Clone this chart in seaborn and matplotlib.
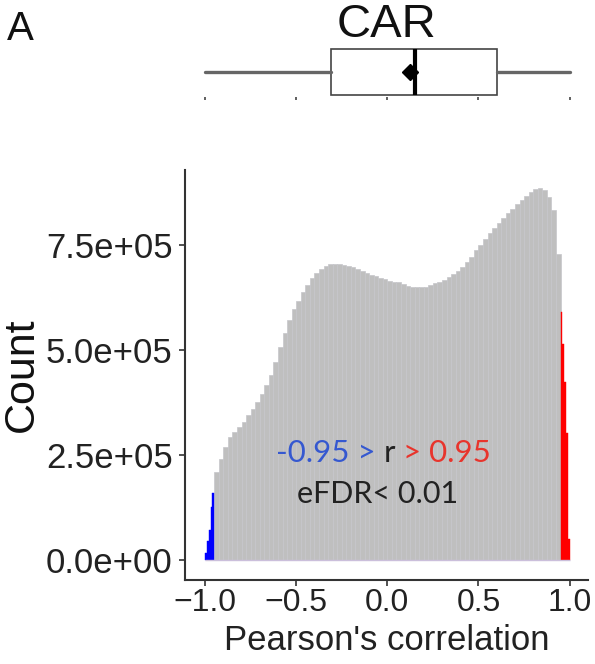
import numpy as np
import matplotlib
matplotlib.use("Agg")
import matplotlib.pyplot as plt
import seaborn as sns

# gray part of the histogram, bins of 0.025 from -0.95 to 0.95 (counts in 1e5)
gray_counts = [
    2.10, 2.40, 2.70, 2.92, 3.06, 3.18, 3.30, 3.45, 3.60, 3.77,
    3.95, 4.17, 4.42, 4.72, 5.08, 5.42, 5.72, 5.98, 6.18, 6.38,
    6.56, 6.72, 6.85, 6.95, 7.02, 7.05, 7.06, 7.05, 7.04, 7.02,
    6.98, 6.93, 6.88, 6.84, 6.80, 6.76, 6.72, 6.69, 6.66, 6.64,
    6.62, 6.58, 6.54, 6.51, 6.50, 6.50, 6.52, 6.56, 6.60, 6.64,
    6.68, 6.74, 6.82, 6.90, 6.99, 7.10, 7.23, 7.38, 7.52, 7.66,
    7.80, 7.92, 8.04, 8.16, 8.27, 8.38, 8.48, 8.58, 8.68, 8.77,
    8.84, 8.87, 8.82, 8.66, 8.35, 7.30,
]
# significant tails, bins of 0.01
blue_counts = [0.17, 0.45, 0.71, 1.26, 1.60]   # -1.00 .. -0.95
red_counts = [5.91, 5.16, 4.25, 3.02, 0.50]    # 0.95 .. 1.00

# boxplot summary of the correlations
box_stats = dict(whislo=-1.0, q1=-0.31, med=0.153, q3=0.60, whishi=1.0, mean=0.126)

gray_x = np.arange(-0.95, 0.95, 0.025)[:len(gray_counts)] + 0.0125
blue_x = np.arange(-1.0, -0.95, 0.01)[:5] + 0.005
red_x = np.arange(0.95, 1.0, 0.01)[:5] + 0.005

sns.set_theme(style="white")
plt.rcParams['font.family'] = ['Liberation Sans', 'DejaVu Sans']

fig = plt.figure(figsize=(5.95, 6.64), dpi=100)
ax = fig.add_axes([0.311, 0.1265, 0.677, 0.6175])
axb = fig.add_axes([0.311, 0.854, 0.677, 0.0753])

sns.histplot(x=gray_x, weights=np.array(gray_counts) * 1e5, binwidth=0.025,
             binrange=(-0.95, 0.95), color='#bfbfbf', edgecolor='#c6c6ca',
             linewidth=0.5, alpha=1, ax=ax)
sns.histplot(x=blue_x, weights=np.array(blue_counts) * 1e5, binwidth=0.01,
             binrange=(-1.0, -0.95), color='#0000ff', edgecolor='#0000ff',
             linewidth=0.3, alpha=1, ax=ax)
sns.histplot(x=red_x, weights=np.array(red_counts) * 1e5, binwidth=0.01,
             binrange=(0.95, 1.0), color='#ff0000', edgecolor='#ff0000',
             linewidth=0.3, alpha=1, ax=ax)
ax.hlines(0, -1.0, 1.0, color='#cbbfdb', lw=1.0, zorder=3)

ax.set_xlim(-1.11, 1.10)
ax.set_ylim(-4.8e4, 9.3e5)
ax.set_xticks([-1.0, -0.5, 0.0, 0.5, 1.0])
ax.set_yticks([0, 2.5e5, 5e5, 7.5e5])
ax.set_yticklabels([f"{v:.1e}" for v in [0, 2.5e5, 5e5, 7.5e5]])
ax.tick_params(axis='both', colors='#333333', labelcolor='#222222',
               length=4, width=1.2, left=True, bottom=True)
ax.tick_params(axis='y', labelsize=25, pad=5)
ax.tick_params(axis='x', labelsize=23, pad=2)
ax.set_xlabel("Pearson's correlation", fontsize=25, color='#222222', labelpad=4)
ax.set_ylabel("Count", fontsize=31, color='#111111', labelpad=3)
for s in ['left', 'bottom']:
    ax.spines[s].set_color('#333333')
    ax.spines[s].set_linewidth(1.5)
sns.despine(ax=ax)

# annotation in three colours
fs = 22.5
t1 = ax.text(-0.61, 2.33e5, "-0.95 >", color='#3558d0', fontsize=fs,
             family=['Lato', 'DejaVu Sans'], va='baseline')
t2 = ax.annotate(" r ", xy=(1, 0), xycoords=t1, va='bottom', ha='left',
                 color='#222222', fontsize=fs, family=['Lato', 'DejaVu Sans'])
ax.annotate("> 0.95", xy=(1, 0), xycoords=t2, va='bottom', ha='left',
            color='#e8342c', fontsize=fs, family=['Lato', 'DejaVu Sans'])
ax.text(-0.495, 1.36e5, "eFDR< 0.01", color='#222222', fontsize=fs - 0.5,
        family=['Lato', 'DejaVu Sans'], va='baseline')

# boxplot on top
axb.bxp([box_stats], vert=False, widths=0.92, showmeans=True, showcaps=False,
        showfliers=False, patch_artist=True,
        boxprops=dict(facecolor='white', edgecolor='#444444', linewidth=1.2),
        whiskerprops=dict(color='#666666', linewidth=2.4),
        medianprops=dict(color='#000000', linewidth=3),
        meanprops=dict(marker='D', markerfacecolor='black',
                       markeredgecolor='black', markersize=8))
axb.set_xlim(ax.get_xlim())
axb.set_ylim(0.5, 1.5)
axb.set_xticks([-1.0, -0.5, 0.0, 0.5, 1.0])
axb.set_xticklabels([])
axb.set_yticks([])
axb.tick_params(axis='x', bottom=True, length=2.5, width=1.2, colors='#444444')
for s in axb.spines.values():
    s.set_visible(False)
axb.set_title("CAR", fontsize=34, color='#111111', pad=6)

fig.text(0.012, 0.985, "A", fontsize=29, color='#111111', va='top', ha='left')

fig.savefig("out.png", dpi=100)
